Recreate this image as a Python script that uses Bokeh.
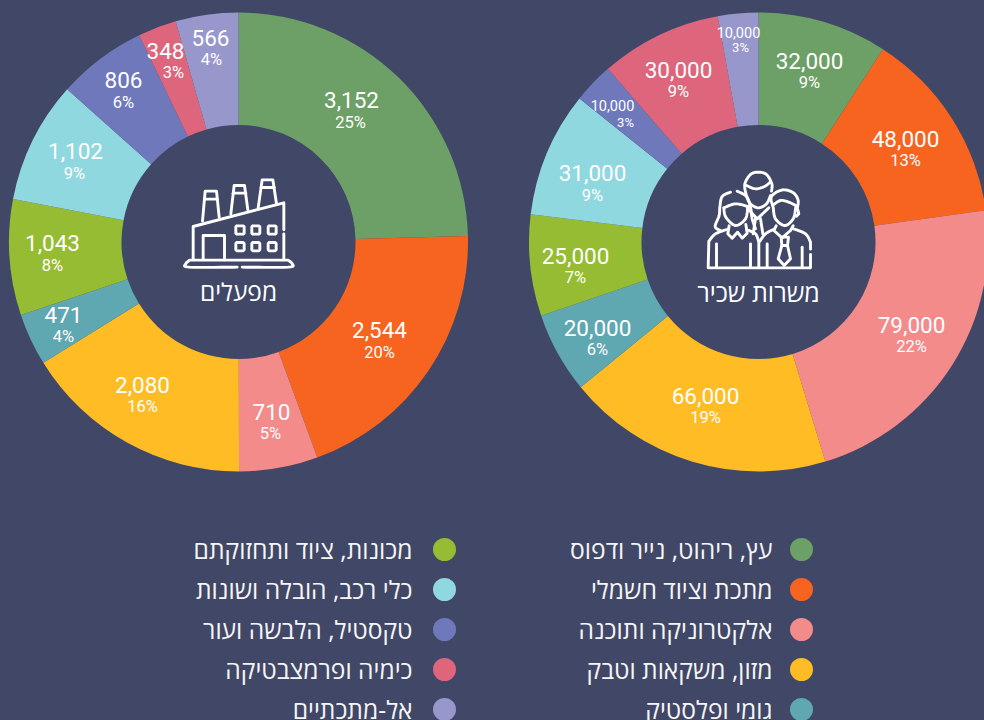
import math
from bokeh.plotting import figure
from bokeh.embed import file_html
from bokeh.resources import INLINE
from bokeh.core.properties import value

BG = "#414766"
CATEGORIES = ["עץ, ריהוט, נייר ודפוס", "מתכת וציוד חשמלי", "אלקטרוניקה ותוכנה", "מזון, משקאות וטבק", "גומי ופלסטיק",
              "מכונות, ציוד ותחזוקתם", "כלי רכב, הובלה ושונות", "טקסטיל, הלבשה ועור", "כימיה ופרמצבטיקה", "אל-מתכתיים"]
COLORS = ["#6DA066", "#F6641F", "#F48B8B", "#FFBC25", "#5FA8B2", "#96BC33", "#90D8E0", "#6E78BB", "#DD667C", "#9797CC"]
FACTORIES = [3152, 2544, 710, 2080, 471, 1043, 1102, 806, 348, 566]
FACTORIES_PCT = ["25%", "20%", "5%", "16%", "4%", "8%", "9%", "6%", "3%", "4%"]
JOBS = [32000, 48000, 79000, 66000, 20000, 25000, 31000, 10000, 30000, 10000]
JOBS_PCT = ["9%", "13%", "22%", "19%", "6%", "7%", "9%", "3%", "9%", "3%"]
TITLE_LEFT = "מפעלים"
TITLE_RIGHT = "משרות שכיר"

# layout, in page pixels
L_X = [351, 379, 271, 142, 63, 52, 75, 123, 165, 210]
L_PX = [350, 379, 270, 142, 63, 52, 74, 123, 173, 211]
L_V = [99, 329, 411, 384, 314, 242, 150, 79, 50, 37]
L_P = [122, 352, 433, 406, 336, 265, 173, 102, 72, 59]
R_X = [809, 905, 911, 705, 597, 575, 592, 612, 678, 738]
R_PX = [809, 905, 911, 705, 597, 575, 592, 625, 678, 740]
R_V = [60, 138, 324, 395, 327, 255, 172, 105, 69, 32]
R_P = [82, 160, 346, 417, 349, 277, 195, 122, 91, 47]
R_SMALL = [False] * 7 + [True, False, True]
LEG_Y = [549, 589, 629, 669, 709]
FONT = "Roboto"
HEB = "Open Sans"

W, H = 984, 720
def Y(y): return 720 - y

p = figure(width=W, height=H, x_range=(0, 984), y_range=(0, 720), output_backend="svg",
           toolbar_location=None, min_border=0, background_fill_color=BG, border_fill_color=BG,
           outline_line_color=None)
p.axis.visible = False
p.grid.visible = False

def donut(cx, cy, vals):
    tot = sum(vals)
    c = 0
    for v, col in zip(vals, COLORS):
        a0 = math.pi / 2 - 2 * math.pi * (c + v) / tot
        a1 = math.pi / 2 - 2 * math.pi * c / tot
        p.annular_wedge(x=[cx], y=[Y(cy)], inner_radius=117, outer_radius=229.5, start_angle=[a0], end_angle=[a1],
                        fill_color=col, line_color=None)
        c += v

def label(x, y, s, size):
    p.text(x=[x], y=[Y(y)], text=[s], text_font=value(FONT), text_font_size=f"{size}px", text_color="white",
           text_align="center", text_baseline="middle")

donut(238, 241.5, FACTORIES)
donut(758, 241.5, JOBS)
for i, v in enumerate(FACTORIES):
    label(L_X[i], L_V[i], f"{v:,}", 22.5)
    label(L_PX[i], L_P[i], FACTORIES_PCT[i], 16.5)
for i, v in enumerate(JOBS):
    label(R_X[i], R_V[i], f"{v:,}", 14.5 if R_SMALL[i] else 22.5)
    label(R_PX[i], R_P[i], JOBS_PCT[i], 13 if R_SMALL[i] else 16.5)

for x, y, s, sz in [(238, 291, TITLE_LEFT, 24.5), (758, 291, TITLE_RIGHT, 25)]:
    p.text(x=[x], y=[Y(y)], text=[s], text_font=value(HEB), text_font_size=f"{sz}px", text_color="white",
           text_align="center", text_baseline="middle")

for i, (cat, col) in enumerate(zip(CATEGORIES, COLORS)):
    cx, tx = (801, 772) if i < 5 else (444, 412)
    y = LEG_Y[i % 5]
    p.scatter(x=[cx], y=[Y(y)], size=23, fill_color=col, line_color=None)
    p.text(x=[tx], y=[Y(y)], text=[cat], text_font=value(HEB), text_font_size="24.6px", text_color="#F6F6F6",
           text_align="right", text_baseline="middle")

# icons, in zoom-crop coordinates
def smooth(pts, n=8):
    P = [pts[0]] + pts + [pts[-1]]
    out = []
    for i in range(1, len(P) - 2):
        for k in range(n):
            t = k / n
            q = []
            for d in (0, 1):
                a, b, c, e = P[i - 1][d], P[i][d], P[i + 1][d], P[i + 2][d]
                q.append(0.5 * (2 * b + (c - a) * t + (2 * a - 5 * b + 4 * c - e) * t * t + (3 * b - a - 3 * c + e) * t ** 3))
            out.append(q)
    out.append(pts[-1])
    return out

def draw(paths, ox, oy):
    xs = [[ox + a / 3 for a, b in q] for q in paths]
    ys = [[Y(oy + b / 3) for a, b in q] for q in paths]
    p.multi_line(xs, ys, line_color="white", line_width=2.9, line_cap="round", line_join="round")

def rrect(x0, y0, x1, y1):
    return [(x0 + 3, y0), (x1 - 3, y0), (x1, y0 + 3), (x1, y1 - 3), (x1 - 3, y1), (x0 + 3, y1), (x0, y1 - 3), (x0, y0 + 3), (x0 + 3, y0)]

factory = [
    smooth([(350, 350), (207, 350), (196, 340), (207, 329)]) + smooth([(207, 329), (503, 329)], 1) + smooth([(503, 329), (515, 340), (503, 350), (365, 350)]),
    [(218, 328), (218, 228), (490, 157), (490, 238)],
    [(490, 250), (490, 328)],
    [(248, 328), (248, 255), (312, 255), (312, 328)],
    [(246, 212), (254, 122), (288, 122), (296, 200)], [(252, 146), (290, 146)],
    [(331, 190), (341, 105), (372, 105), (382, 178)], [(338, 128), (376, 128)],
    [(413, 172), (425, 88), (457, 88), (468, 160)], [(422, 111), (461, 111)],
]
for wx in [(346, 371), (394, 418), (443, 467)]:
    for wy in [(226, 251), (276, 301)]:
        factory.append(rrect(wx[0], wy[0], wx[1], wy[1]))
draw(factory, 120, 150)

people = [
    # back figure
    smooth([(316, 130), (313, 100), (330, 72), (353, 65), (378, 72), (394, 100), (393, 122)]),
    smooth([(318, 105), (345, 115), (372, 108), (388, 96)]),
    smooth([(316, 130), (328, 158), (353, 172), (378, 160), (390, 135)]),
    [(322, 175), (350, 205), (385, 172)],
    [(345, 205), (338, 250)], [(360, 205), (367, 250)],
    # woman
    smooth([(270, 125), (245, 138), (238, 170), (236, 195), (224, 228), (240, 240)]),
    smooth([(290, 122), (318, 138), (330, 170), (335, 205), (345, 235)]),
    smooth([(250, 172), (285, 160), (322, 168)]),
    smooth([(250, 172), (256, 200), (285, 225), (315, 205), (322, 168)]),
    [(266, 226), (262, 250), (275, 263), (291, 245), (305, 263), (320, 248), (316, 222)],
    smooth([(262, 236), (225, 250), (205, 272)]) + [(203, 352), (510, 352), (510, 312)],
    smooth([(320, 238), (345, 250), (355, 275)]) + [(355, 352)],
    [(228, 280), (228, 350)], [(330, 280), (330, 350)],
    # right man
    smooth([(396, 165), (392, 140), (410, 124), (433, 118), (460, 128), (473, 150), (470, 175)]),
    smooth([(396, 165), (420, 150), (445, 155), (466, 165)]),
    smooth([(398, 170), (405, 205), (433, 225), (458, 205), (466, 170)]),
    [(472, 178), (475, 190), (468, 197)],
    [(407, 226), (400, 240), (425, 262), (450, 240), (458, 226)],
    [(422, 260), (444, 260), (441, 285), (424, 285), (422, 260)],
    [(424, 285), (413, 325), (431, 345), (450, 325), (441, 285)],
    smooth([(400, 236), (375, 250), (358, 272)]),
    smooth([(456, 234), (495, 250), (510, 275)]) + [(510, 296)],
    [(380, 280), (380, 350)], [(485, 290), (485, 350)],
]
draw(people, 640, 150)

html = file_html(p, INLINE)
html = html.replace("<head>", f"<head><style>html,body{{background:{BG};overflow:hidden}}</style>", 1)
open("out.html", "w").write(html)
